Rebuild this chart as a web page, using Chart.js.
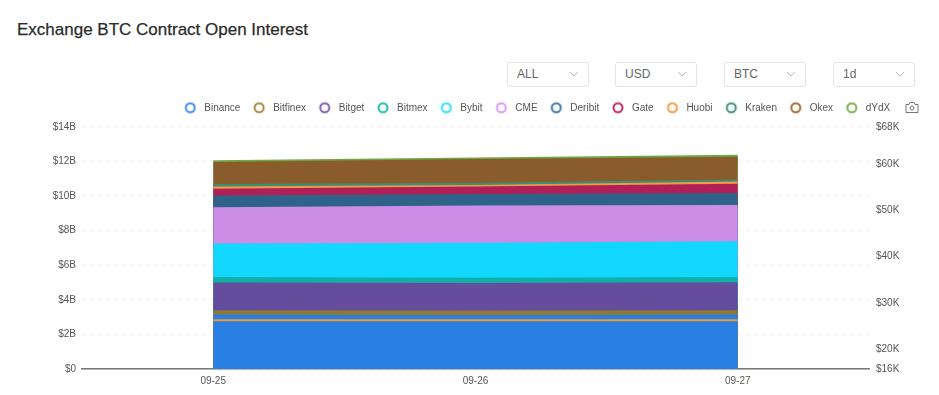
<!DOCTYPE html>
<html>
<head>
<meta charset="utf-8">
<script src="https://cdn.jsdelivr.net/npm/chart.js@4/dist/chart.umd.min.js"></script>
<style>
  html, body { margin: 0; padding: 0; background: #fff; }
  body { width: 939px; height: 395px; position: relative; overflow: hidden; font-family: "Liberation Sans", Arial, sans-serif; }
  .title { position: absolute; left: 17px; top: 20px; font-size: 17px; font-weight: 500; color: #2b2b2b; -webkit-text-stroke: 0.25px #2b2b2b; white-space: nowrap; }
  .select { position: absolute; top: 62px; width: 82px; height: 25px; box-sizing: border-box; border: 1px solid #e4e4e4; border-radius: 3px; font-size: 12px; line-height: 23px; padding-left: 9px; color: #666; }
  .select svg { position: absolute; right: 9px; top: 8px; }
  .camera { position: absolute; left: 905px; top: 101px; }
  #wrap { position: absolute; left: 0; top: 0; width: 939px; height: 395px; }
</style>
</head>
<body>
<div class="title">Exchange BTC Contract Open Interest</div>
<div id="selects"></div>
<div id="wrap"><canvas id="chart"></canvas></div>
<svg class="camera" width="14" height="13" viewBox="0 0 14 13" fill="none" stroke="#777" stroke-width="1">
  <path d="M1 3.5h3l1-2h4l1 2h3v8H1z"/><circle cx="7" cy="7" r="2"/>
</svg>
<script>
const days = ["09-25", "09-26", "09-27"]
const filters = ["ALL", "USD", "BTC", "1d"]
const filterLeft = [507, 615, 724, 833]

const exchanges = ["Binance", "Bitfinex", "Bitget", "Bitmex", "Bybit", "CME", "Deribit", "Gate", "Huobi", "Kraken", "Okex", "dYdX"]
const binance = [3.15, 3.11, 3.15]
const bitfinex = [0.25, 0.27, 0.25]
const bitget = [1.6, 1.59, 1.61]
const bitmex = [0.32, 0.31, 0.31]
const bybit = [1.94, 2.02, 2.06]
const cme = [2.09, 2.15, 2.1]
const deribit = [0.67, 0.67, 0.69]
const gate = [0.4, 0.42, 0.53]
const huobi = [0.13, 0.1, 0.13]
const kraken = [0.14, 0.12, 0.12]
const okex = [1.28, 1.38, 1.31]
const dydx = [0.1, 0.09, 0.12]
const btcPrice = [26200, 26200, 26200]

const fillColors = ["#2a7fe2", "#8e7a36", "#664c9c", "#10b0a8", "#12d8ff", "#cb8de6", "#2f6288", "#b01f55", "#ef9a45", "#3f8c72", "#8a5c2b", "#6fa648"]
const ringColors = ["#3b8bf0", "#a5883d", "#7a5cb8", "#1fbdb0", "#2ae0ff", "#d99af0", "#3a76a8", "#c4285f", "#f39a3e", "#3f8f75", "#9c6a30", "#7ab04f"]
const leftTicks = [0, 2, 4, 6, 8, 10, 12, 14]
const rightTicks = [15700, 20000, 30000, 40000, 50000, 60000, 68000]

const selects = document.getElementById("selects")
filters.forEach((name, i) => {
  const el = document.createElement("div")
  el.className = "select"
  el.style.left = filterLeft[i] + "px"
  el.innerHTML = name + '<svg width="10" height="7" viewBox="0 0 10 7" fill="none" stroke="#bbb"><path d="M1 1l4 4 4-4"/></svg>'
  selects.appendChild(el)
})

// legend marker, pointStyleWidth would stretch a plain circle into an ellipse
const ringImage = color => {
  const ring = document.createElement("canvas")
  ring.width = 14
  ring.height = 14
  const ctx = ring.getContext("2d")
  ctx.strokeStyle = color
  ctx.lineWidth = 2
  ctx.beginPath()
  ctx.arc(7, 7, 4.5, 0, Math.PI * 2)
  ctx.stroke()
  return ring
}

const series = [binance, bitfinex, bitget, bitmex, bybit, cme, deribit, gate, huobi, kraken, okex, dydx]
const datasets = series.map((values, i) => ({
  label: exchanges[i],
  data: values,
  yAxisID: "y",
  stack: "oi",
  fill: true,
  order: 2,
  borderWidth: 0,
  pointRadius: 0,
  tension: 0,
  backgroundColor: fillColors[i],
  borderColor: fillColors[i],
}))
datasets.push({
  label: "BTC Price",
  data: btcPrice,
  yAxisID: "y1",
  order: 1,
  fill: false,
  borderWidth: 2,
  pointRadius: 0,
  borderColor: "#f5962f",
})

const tickFont = { size: 10, family: '"Liberation Sans", Arial, sans-serif' }

// the legend ends left of the camera icon, not at the right axis labels
const legendShift = {
  id: "legendShift",
  afterLayout: chart => {
    chart.legend.right -= 14
    chart.legend.top -= 4
  },
}

new Chart(document.getElementById("chart"), {
  type: "line",
  data: { labels: days, datasets: datasets },
  plugins: [legendShift],
  options: {
    responsive: true,
    maintainAspectRatio: false,
    animation: false,
    layout: { padding: { left: 32, right: 25, top: 97, bottom: 2 } },
    plugins: {
      tooltip: { enabled: false },
      legend: {
        position: "top",
        align: "end",
        labels: {
          usePointStyle: true,
          pointStyleWidth: 18,
          boxHeight: 7,
          padding: 9.75,
          color: "#555",
          font: tickFont,
          generateLabels: () => exchanges.map((name, i) => ({
            text: name,
            datasetIndex: i,
            fontColor: "#555",
            pointStyle: ringImage(ringColors[i]),
          })),
        },
      },
    },
    scales: {
      x: {
        offset: true,
        grid: { display: false, drawTicks: false },
        border: { color: "#777", width: 1.5 },
        ticks: { color: "#555", font: tickFont, maxRotation: 0, padding: 6 },
      },
      y: {
        position: "left",
        stacked: true,
        min: 0,
        max: 14,
        afterFit: scale => { scale.width = 50 },
        afterBuildTicks: scale => { scale.ticks = leftTicks.map(v => ({ value: v })) },
        grid: { color: "#eeeeee", drawTicks: false },
        border: { display: false, dash: [4, 4] },
        ticks: { color: "#555", font: tickFont, padding: 6, callback: v => v === 0 ? "$0" : "$" + v + "B" },
      },
      y1: {
        position: "right",
        min: 15700,
        max: 68000,
        afterFit: scale => { scale.width = 45 },
        afterBuildTicks: scale => { scale.ticks = rightTicks.map(v => ({ value: v })) },
        grid: { display: false, drawTicks: false },
        border: { display: false },
        ticks: { color: "#555", font: tickFont, padding: 7, callback: v => "$" + Math.round(v / 1000) + "K" },
      },
    },
  },
})
</script>
</body>
</html>
